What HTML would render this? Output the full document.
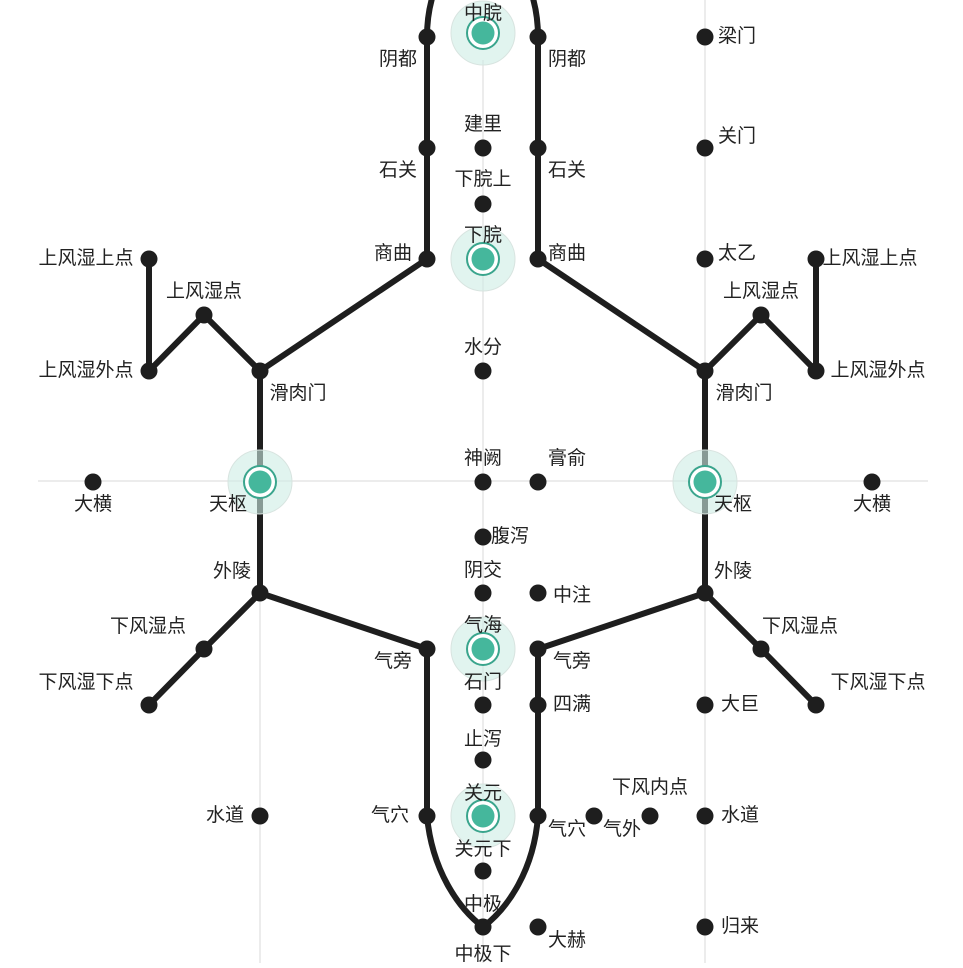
<!DOCTYPE html>
<html><head><meta charset="utf-8"><style>
html,body{margin:0;padding:0;background:#fff;}
svg text{font-family:"Liberation Sans","Noto Sans CJK SC",sans-serif;font-size:19px;fill:#222;dominant-baseline:middle;}
</style></head><body>
<svg width="963" height="963" viewBox="0 0 963 963" xmlns="http://www.w3.org/2000/svg">
<g stroke="#e6e6e6" stroke-width="1.5">
<line x1="38" y1="481" x2="928" y2="481"/>
<line x1="483" y1="60" x2="483" y2="963"/>
<line x1="705" y1="0" x2="705" y2="963"/>
<line x1="260" y1="500" x2="260" y2="963"/>
</g>
<g fill="none" stroke="#1e1e1e" stroke-width="6" stroke-linejoin="round" stroke-linecap="round">
<path d="M427,259 L427,37 C427,20 429,8 433,-5"/>
<path d="M538,259 L538,37 C538,20 536,8 532,-5"/>
<path d="M427,649 L427,816 C432,870 458,908 483,927 C508,908 534,870 538,816 L538,649"/>
<path d="M427,259 L260,371 L260,593 L427,649"/>
<path d="M538,259 L705,371 L705,593 L538,649"/>
<path d="M260,371 L204,315 L149,371 L149,259"/>
<path d="M705,371 L761,315 L816,371 L816,259"/>
<path d="M260,593 L204,649 L149,705"/>
<path d="M705,593 L761,649 L816,705"/>
</g>
<g fill="#1e1e1e">
<circle cx="427" cy="37" r="8.5"/><circle cx="427" cy="148" r="8.5"/><circle cx="427" cy="259" r="8.5"/>
<circle cx="538" cy="37" r="8.5"/><circle cx="538" cy="148" r="8.5"/><circle cx="538" cy="259" r="8.5"/>
<circle cx="483" cy="148" r="8.5"/><circle cx="483" cy="204" r="8.5"/><circle cx="483" cy="371" r="8.5"/>
<circle cx="483" cy="482" r="8.5"/><circle cx="483" cy="537" r="8.5"/><circle cx="483" cy="593" r="8.5"/>
<circle cx="483" cy="705" r="8.5"/><circle cx="483" cy="760" r="8.5"/><circle cx="483" cy="871" r="8.5"/><circle cx="483" cy="927" r="8.5"/>
<circle cx="538" cy="482" r="8.5"/><circle cx="538" cy="593" r="8.5"/><circle cx="538" cy="649" r="8.5"/><circle cx="538" cy="705" r="8.5"/><circle cx="538" cy="816" r="8.5"/><circle cx="538" cy="927" r="8.5"/>
<circle cx="427" cy="649" r="8.5"/><circle cx="427" cy="816" r="8.5"/>
<circle cx="260" cy="371" r="8.5"/><circle cx="260" cy="593" r="8.5"/><circle cx="204" cy="315" r="8.5"/><circle cx="149" cy="371" r="8.5"/><circle cx="149" cy="259" r="8.5"/>
<circle cx="204" cy="649" r="8.5"/><circle cx="149" cy="705" r="8.5"/><circle cx="93" cy="482" r="8.5"/><circle cx="260" cy="816" r="8.5"/>
<circle cx="705" cy="371" r="8.5"/><circle cx="705" cy="593" r="8.5"/><circle cx="761" cy="315" r="8.5"/><circle cx="816" cy="371" r="8.5"/><circle cx="816" cy="259" r="8.5"/>
<circle cx="761" cy="649" r="8.5"/><circle cx="816" cy="705" r="8.5"/><circle cx="872" cy="482" r="8.5"/>
<circle cx="705" cy="37" r="8.5"/><circle cx="705" cy="148" r="8.5"/><circle cx="705" cy="259" r="8.5"/><circle cx="705" cy="705" r="8.5"/><circle cx="705" cy="816" r="8.5"/><circle cx="705" cy="927" r="8.5"/>
<circle cx="650" cy="816" r="8.5"/><circle cx="594" cy="816" r="8.5"/>
</g>
<g>
<g><circle cx="483" cy="33" r="32" fill="#cdece4" fill-opacity="0.6" stroke="#d8e4e0"/><circle cx="483" cy="33" r="16" fill="#fff" stroke="#3aa58d" stroke-width="2"/><circle cx="483" cy="33" r="11.5" fill="#45b79c"/></g>
<g><circle cx="483" cy="259" r="32" fill="#cdece4" fill-opacity="0.6" stroke="#d8e4e0"/><circle cx="483" cy="259" r="16" fill="#fff" stroke="#3aa58d" stroke-width="2"/><circle cx="483" cy="259" r="11.5" fill="#45b79c"/></g>
<g><circle cx="483" cy="649" r="32" fill="#cdece4" fill-opacity="0.6" stroke="#d8e4e0"/><circle cx="483" cy="649" r="16" fill="#fff" stroke="#3aa58d" stroke-width="2"/><circle cx="483" cy="649" r="11.5" fill="#45b79c"/></g>
<g><circle cx="483" cy="816" r="32" fill="#cdece4" fill-opacity="0.6" stroke="#d8e4e0"/><circle cx="483" cy="816" r="16" fill="#fff" stroke="#3aa58d" stroke-width="2"/><circle cx="483" cy="816" r="11.5" fill="#45b79c"/></g>
<g><circle cx="260" cy="482" r="32" fill="#cdece4" fill-opacity="0.6" stroke="#d8e4e0"/><circle cx="260" cy="482" r="16" fill="#fff" stroke="#3aa58d" stroke-width="2"/><circle cx="260" cy="482" r="11.5" fill="#45b79c"/></g>
<g><circle cx="705" cy="482" r="32" fill="#cdece4" fill-opacity="0.6" stroke="#d8e4e0"/><circle cx="705" cy="482" r="16" fill="#fff" stroke="#3aa58d" stroke-width="2"/><circle cx="705" cy="482" r="11.5" fill="#45b79c"/></g>
</g>
<g text-anchor="middle">
<text x="483" y="14">中脘</text><text x="483" y="125">建里</text><text x="483" y="180">下脘上</text>
<text x="483" y="236">下脘</text><text x="483" y="348">水分</text><text x="483" y="459">神阙</text>
<text x="483" y="571">阴交</text><text x="483" y="626">气海</text><text x="483" y="683">石门</text>
<text x="483" y="740">止泻</text><text x="483" y="794">关元</text><text x="483" y="850">关元下</text>
<text x="483" y="905">中极</text><text x="483" y="955">中极下</text>
<text x="398" y="60">阴都</text><text x="398" y="171">石关</text><text x="393" y="254">商曲</text>
<text x="567" y="60">阴都</text><text x="567" y="171">石关</text><text x="567" y="254">商曲</text>
<text x="567" y="459">膏俞</text><text x="572" y="596">中注</text><text x="572" y="662">气旁</text>
<text x="572" y="705">四满</text><text x="567" y="830">气穴</text><text x="567" y="941">大赫</text>
<text x="393" y="662">气旁</text><text x="390" y="816">气穴</text>
<text x="510" y="537">腹泻</text>
<text x="298" y="394">滑肉门</text><text x="204" y="292">上风湿点</text><text x="86" y="371">上风湿外点</text>
<text x="86" y="259">上风湿上点</text><text x="228" y="505">天枢</text><text x="93" y="505">大横</text>
<text x="232" y="572">外陵</text><text x="148" y="627">下风湿点</text><text x="86" y="683">下风湿下点</text>
<text x="225" y="816">水道</text>
<text x="744" y="394">滑肉门</text><text x="761" y="292">上风湿点</text><text x="878" y="371">上风湿外点</text>
<text x="870" y="259">上风湿上点</text><text x="733" y="505">天枢</text><text x="872" y="505">大横</text>
<text x="733" y="572">外陵</text><text x="800" y="627">下风湿点</text><text x="878" y="683">下风湿下点</text>
<text x="737" y="37">梁门</text><text x="737" y="137">关门</text><text x="737" y="254">太乙</text>
<text x="740" y="705">大巨</text><text x="740" y="816">水道</text><text x="740" y="927">归来</text>
<text x="650" y="788">下风内点</text><text x="622" y="830">气外</text>
</g>
</svg>
</body></html>
